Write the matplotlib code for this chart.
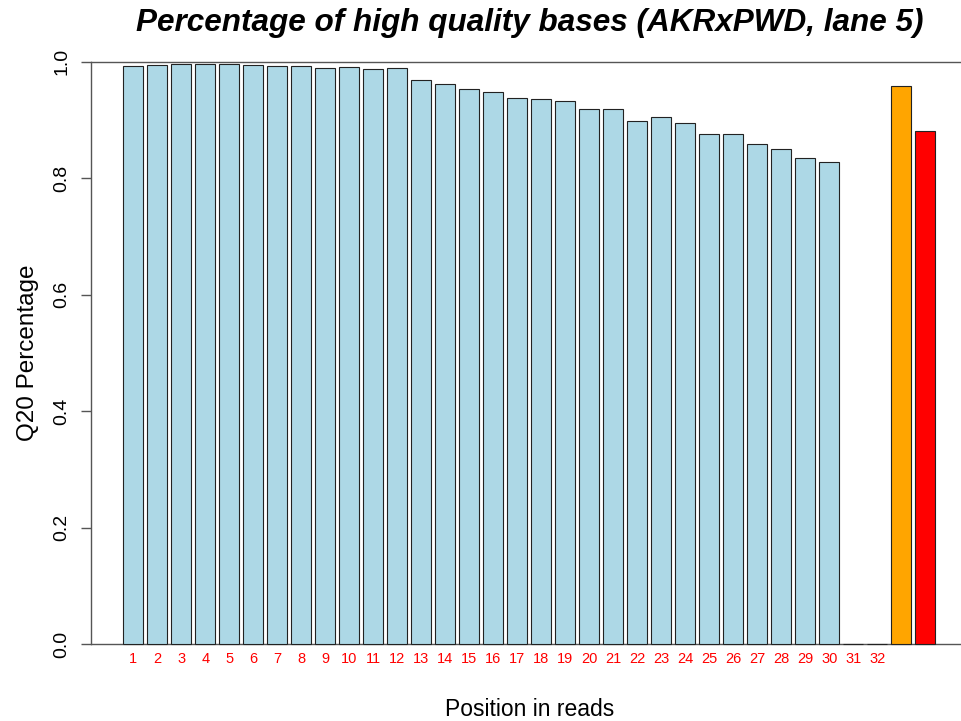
import numpy as np
import matplotlib.pyplot as plt

plt.rcParams['font.family'] = ['Liberation Sans', 'DejaVu Sans']

# Q20 fraction per read position (31 and 32 have no data), then two summary bars
positions = [str(i) for i in range(1, 33)]
q20 = [0.992, 0.994, 0.995, 0.995, 0.995, 0.994, 0.993, 0.992, 0.989, 0.990,
       0.987, 0.988, 0.968, 0.961, 0.953, 0.948, 0.937, 0.935, 0.932, 0.918,
       0.918, 0.898, 0.905, 0.895, 0.875, 0.875, 0.858, 0.850, 0.834, 0.827,
       0.0, 0.0]
summary = [0.958, 0.881]
summary_colors = ['orange', 'red']

heights = q20 + summary
colors = ['lightblue'] * len(q20) + summary_colors

# barplot layout: width 1, space 0.2
width, space = 1.0, 0.2
n = len(heights)
lefts = space + np.arange(n) * (width + space)
centers = lefts + width / 2
xmin, xmax = space, n * (width + space)
pad = 0.04 * (xmax - xmin)

fig = plt.figure(figsize=(9.61, 7.21), dpi=100)
W, H = 961, 721
ax = fig.add_axes([90.8 / W, (H - 667.3) / H, (967.8 - 90.8) / W, (667.3 - 38.2) / H])

ax.bar(centers, heights, width=width, color=colors, edgecolor='#222222', linewidth=0.8)
ax.set_xlim(xmin - pad, xmax + pad)
ax.set_ylim(-0.04, 1.04)

ax.axhline(0, color='#555555', linewidth=1.0, zorder=0.5)
ax.axhline(1, color='#555555', linewidth=1.0, zorder=0.5)

for s in ['top', 'right', 'bottom']:
    ax.spines[s].set_visible(False)
ax.spines['left'].set_bounds(0, 1)
ax.spines['left'].set_color('#555555')
ax.spines['left'].set_linewidth(1.0)

yt = np.arange(0, 1.01, 0.2)
ax.set_yticks(yt)
ax.set_yticklabels(['%.1f' % v for v in yt], rotation=90, va='center', fontsize=14)
ax.tick_params(axis='y', length=7.2, width=1.0, color='#555555', pad=7.5)
ax.set_xticks([])

for c, lab in zip(centers[:len(positions)], positions):
    ax.text(c, -0.025, lab, color='red', fontsize=10.5, ha='center', va='center')

ax.set_ylabel('Q20 Percentage', fontsize=17.5, labelpad=10)
ax.text(0.5, -0.067, 'Position in reads', transform=ax.transAxes,
        fontsize=16.5, ha='center', va='center')
ax.set_title('Percentage of high quality bases (AKRxPWD, lane 5)',
             fontsize=22.7, fontweight='bold', fontstyle='italic', pad=1)

fig.savefig('out.png', dpi=100)
